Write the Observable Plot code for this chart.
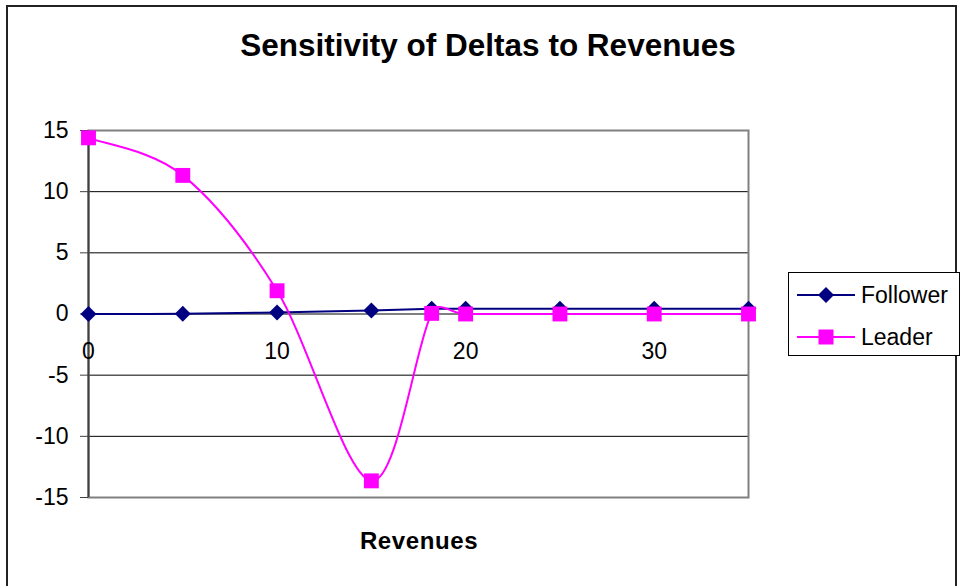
<!DOCTYPE html>
<html>
<head>
<meta charset="utf-8">
<script src="https://cdn.jsdelivr.net/npm/d3@7"></script>
<script src="https://cdn.jsdelivr.net/npm/@observablehq/plot@0.6"></script>
<style>
  html, body { margin: 0; padding: 0; background: #fff; }
  #wrap { position: relative; width: 962px; height: 586px; overflow: hidden; font-family: "Liberation Sans", Arial, sans-serif; }
  #border { position: absolute; left: 6px; top: 5px; width: 951px; height: 600px; border: 2px solid #222; box-sizing: border-box; }
  #chart { position: absolute; left: 0; top: 0; }
  #overlay { position: absolute; left: 0; top: 0; }
</style>
</head>
<body>
<div id="wrap">
  <div id="border"></div>
  <div id="chart"></div>
  <svg id="overlay" width="962" height="586"></svg>
</div>
<script>
const revenues = [0, 5, 10, 15, 18.2, 20, 25, 30, 35];
const follower = [0, 0.02, 0.13, 0.28, 0.42, 0.42, 0.42, 0.42, 0.42];
const leader = [14.4, 11.33, 1.9, -13.64, 0.05, 0, 0, 0, 0];
const seriesNames = ["Follower", "Leader"];
const seriesColors = ["#000080", "#FF00FF"];
const xTicks = [0, 10, 20, 30];
const yTicks = [-15, -10, -5, 0, 5, 10, 15];
const gridTicks = [-10, -5, 5, 10];
const titleText = "Sensitivity of Deltas to Revenues";
const xTitle = "Revenues";

const followerData = revenues.map((x, i) => ({x, y: follower[i]}));
const leaderData = revenues.map((x, i) => ({x, y: leader[i]}));

const font = "'Liberation Sans', Arial, sans-serif";

// Spreadsheet-style smoothed line: Bezier segments with tangents from neighbours (1/6),
// capped at half the segment length.
function SmoothCurve(context) { this._context = context; }
SmoothCurve.prototype = {
  areaStart() {}, areaEnd() {},
  lineStart() { this._pts = []; },
  point(x, y) { this._pts.push([+x, +y]); },
  lineEnd() {
    const p = this._pts, c = this._context, n = p.length;
    if (!n) return;
    c.moveTo(p[0][0], p[0][1]);
    if (n === 1) return;
    const ctrl = (a, b, s0, s1) => {
      const dx = b[0] - a[0], dy = b[1] - a[1];
      const d = Math.hypot(dx, dy);
      const seg = Math.hypot(s1[0] - s0[0], s1[1] - s0[1]);
      if (d === 0) return [0, 0];
      let f = 1 / 6;
      if (d * f > seg / 2) f = (seg / 2) / d;
      return [dx * f, dy * f];
    };
    for (let i = 0; i < n - 1; i++) {
      const p0 = p[Math.max(0, i - 1)], p1 = p[i], p2 = p[i + 1], p3 = p[Math.min(n - 1, i + 2)];
      const t1 = ctrl(p0, p2, p1, p2), t2 = ctrl(p1, p3, p1, p2);
      c.bezierCurveTo(p1[0] + t1[0], p1[1] + t1[1], p2[0] - t2[0], p2[1] - t2[1], p2[0], p2[1]);
    }
  }
};
const curveSmooth = context => new SmoothCurve(context);

const chart = Plot.plot({
  width: 962,
  height: 586,
  marginLeft: 88,
  marginRight: 214,
  marginTop: 130,
  marginBottom: 89,
  style: {fontFamily: font, color: "#000", background: "transparent", overflow: "visible"},
  x: {domain: [0, 35]},
  y: {domain: [-15, 15]},
  marks: [
    Plot.ruleY(gridTicks, {stroke: "#000", strokeWidth: 1}),
    Plot.frame({stroke: "#808080", strokeWidth: 2}),
    Plot.ruleX([0], {stroke: "#404040", strokeWidth: 2}),
    Plot.ruleY([0], {stroke: "#000", strokeWidth: 1}),
    Plot.axisY({ticks: yTicks, tickSize: 8, tickPadding: 12, fontSize: 23, label: null, stroke: "#404040", tickFormat: d => String(d)}),
    Plot.axisX({ticks: [], label: null}),
    Plot.ruleX(xTicks, {x: d => d, y1: 0, y2: -0.5, stroke: "#000"}),
    Plot.text(xTicks, {x: d => d, y: 0, dy: 38, text: d => String(d), fontSize: 23, fill: "#000"}),
    Plot.line(followerData, {x: "x", y: "y", curve: curveSmooth, stroke: seriesColors[0], strokeWidth: 2}),
    Plot.line(leaderData, {x: "x", y: "y", curve: curveSmooth, stroke: seriesColors[1], strokeWidth: 2}),
    Plot.dot(followerData, {x: "x", y: "y", symbol: "diamond2", r: 7.2, fill: seriesColors[0], stroke: "none"}),
    Plot.dot(leaderData, {x: "x", y: "y", symbol: "square", r: 8.4, fill: seriesColors[1], stroke: "none"})
  ]
});
document.getElementById("chart").appendChild(chart);

// Overlay: title, axis title, legend
const svg = d3.select("#overlay").style("font-family", font);
svg.append("text").attr("x", 488).attr("y", 56).attr("text-anchor", "middle")
  .attr("font-size", 31.5).attr("font-weight", "bold").attr("fill", "#000").text(titleText);
svg.append("text").attr("x", 419).attr("y", 549).attr("text-anchor", "middle")
  .attr("font-size", 24).attr("font-weight", "bold").attr("letter-spacing", "0.6px").attr("fill", "#000").text(xTitle);

const lg = svg.append("g");
lg.append("rect").attr("x", 788.5).attr("y", 272.5).attr("width", 171).attr("height", 83)
  .attr("fill", "#fff").attr("stroke", "#000").attr("stroke-width", 1);
const rowsY = [295, 337];
seriesNames.forEach((name, i) => {
  const y = rowsY[i];
  lg.append("line").attr("x1", 797).attr("x2", 855).attr("y1", y).attr("y2", y)
    .attr("stroke", seriesColors[i]).attr("stroke-width", 2);
  if (i === 0) {
    lg.append("path").attr("d", `M826,${y-8}L834,${y}L826,${y+8}L818,${y}Z`).attr("fill", seriesColors[i]);
  } else {
    lg.append("rect").attr("x", 818.5).attr("y", y - 7.5).attr("width", 15).attr("height", 15).attr("fill", seriesColors[i]);
  }
  lg.append("text").attr("x", 861).attr("y", y + 8).attr("font-size", 23).attr("fill", "#000").text(name);
});
</script>
</body>
</html>
